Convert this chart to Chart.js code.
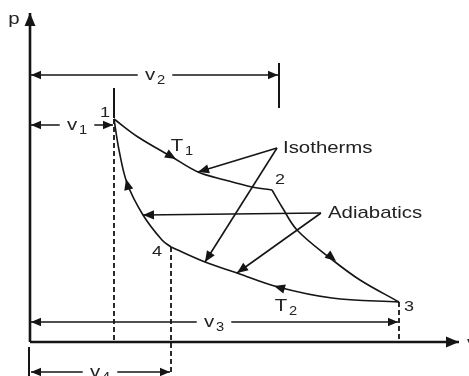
<!DOCTYPE html>
<html>
<head>
<meta charset="utf-8">
<script src="https://cdn.jsdelivr.net/npm/chart.js@4.4.1/dist/chart.umd.min.js"></script>
<style>
  html, body { margin: 0; padding: 0; background: #fff; }
  #wrap { width: 469px; height: 376px; position: relative; }
</style>
</head>
<body>
<div id="wrap"><canvas id="myChart"></canvas></div>
<script>

// curves of the cycle (v, p)
const isoT1V = [8.4, 10.8, 14.2, 16.8, 19.5, 22.2, 24.2];
const isoT1P = [22.3, 20.5, 18.5, 17.0, 16.2, 15.5, 15.2];
const adi23V = [24.2, 25.2, 26.7, 30.0, 33.0, 36.9];
const adi23P = [15.2, 13.5, 11.2, 8.4, 6.2, 4.0];
const isoT2V = [36.9, 30.2, 24.8, 20.7, 17.5, 14.1];
const isoT2P = [4.0, 4.4, 5.5, 6.9, 8.0, 9.5];
const adi41V = [14.1, 13.2, 11.3, 9.7, 8.9, 8.4];
const adi41P = [9.5, 10.2, 12.7, 15.9, 19.2, 22.3];

// the four states
const stateNames = ['1', '2', '3', '4'];
const stateV = [8.4, 24.2, 36.9, 14.1];
const stateP = [22.3, 15.2, 4.0, 9.5];

// volume marks v1..v4 and the height of their dimension lines
const volNames = ['1', '2', '3', '4'];
const volV = [8.4, 24.9, 36.9, 14.1];
const volLineP = [21.7, 26.7, 2.0, -3.0];

// axis extents
const pMax = 32.9;
const vMax = 42.9;

// pointer lines: from label corner to a curve
const isoFrom = [24.7, 19.4];
const isoTo = [[16.8, 17.0], [17.5, 8.0]];
const adiFrom = [29.1, 12.9];
const adiTo = [[11.3, 12.7], [20.7, 6.9]];

// direction arrows sitting on the curves: [tipV, tipP, backV, backP]
const curveArrows = [
  [14.6, 18.3, 12.5, 19.5],
  [30.6, 8.1, 28.5, 9.8],
  [24.4, 5.6, 26.5, 5.0],
  [9.6, 16.3, 10.2, 14.0]
];

function pts(vs, ps) {
  return vs.map((v, i) => ({ x: v, y: ps[i] }))
}

const ink = '#151515';

function line(data, extra) {
  return Object.assign({
    data: data,
    showLine: true,
    borderColor: ink,
    borderWidth: 1.6,
    pointRadius: 0,
    fill: false,
    tension: 0
  }, extra || {});
}

const datasets = [
  // axes
  line([{ x: 0, y: 0 }, { x: 0, y: pMax }], { borderWidth: 2.6, arrowEnd: 13 }),
  line([{ x: 0, y: 0 }, { x: vMax, y: 0 }], { borderWidth: 2.6, arrowEnd: 13 }),
  // cycle
  line(pts(isoT1V, isoT1P), { tension: 0.35 }),
  line(pts(adi23V, adi23P), { tension: 0.35 }),
  line(pts(isoT2V, isoT2P), { tension: 0.35 }),
  line(pts(adi41V, adi41P), { tension: 0.35 }),
  // dashed drops
  line([{ x: volV[0], y: stateP[0] }, { x: volV[0], y: 0 }], { borderDash: [5, 3], borderWidth: 1.8 }),
  line([{ x: volV[3], y: stateP[3] }, { x: volV[3], y: volLineP[3] - 0.3 }], { borderDash: [5, 3], borderWidth: 1.8 }),
  line([{ x: volV[2], y: stateP[2] }, { x: volV[2], y: 0 }], { borderDash: [5, 3], borderWidth: 1.8 }),
  // dimension lines
  line([{ x: volV[0] - 0.1, y: volLineP[0] }, { x: 0.1, y: volLineP[0] }], { arrowEnd: 10, arrowStart: 10 }),
  line([{ x: volV[1] - 0.1, y: volLineP[1] }, { x: 0.1, y: volLineP[1] }], { arrowEnd: 10, arrowStart: 10 }),
  line([{ x: volV[2] - 0.1, y: volLineP[2] }, { x: 0.1, y: volLineP[2] }], { arrowEnd: 10, arrowStart: 10 }),
  line([{ x: volV[3] - 0.1, y: volLineP[3] }, { x: 0.1, y: volLineP[3] }], { arrowEnd: 10, arrowStart: 10 }),
  // end ticks
  line([{ x: volV[1], y: 27.9 }, { x: volV[1], y: 23.4 }], { borderWidth: 2 }),
  line([{ x: volV[0], y: 25.4 }, { x: volV[0], y: 22.4 }], { borderWidth: 2 }),
  line([{ x: -0.1, y: -0.5 }, { x: -0.1, y: -3.4 }], { borderWidth: 2 }),
  // pointers
  line([{ x: isoFrom[0], y: isoFrom[1] }, { x: isoTo[0][0], y: isoTo[0][1] }], { arrowEnd: 11 }),
  line([{ x: isoFrom[0], y: isoFrom[1] }, { x: isoTo[1][0], y: isoTo[1][1] }], { arrowEnd: 11 }),
  line([{ x: adiFrom[0], y: adiFrom[1] }, { x: adiTo[0][0], y: adiTo[0][1] }], { arrowEnd: 11 }),
  line([{ x: adiFrom[0], y: adiFrom[1] }, { x: adiTo[1][0], y: adiTo[1][1] }], { arrowEnd: 11 })
];

function arrowHead(ctx, tx, ty, bx, by, len) {
  const a = Math.atan2(ty - by, tx - bx);
  const w = len * 0.42;
  ctx.beginPath();
  ctx.moveTo(tx, ty);
  ctx.lineTo(tx - len * Math.cos(a) + w * Math.sin(a), ty - len * Math.sin(a) - w * Math.cos(a));
  ctx.lineTo(tx - len * Math.cos(a) - w * Math.sin(a), ty - len * Math.sin(a) + w * Math.cos(a));
  ctx.closePath();
  ctx.fill();
}

function drawLabel(ctx, x, y, text, sub, size, align, knockout) {
  const font = (s) => s + 'px "Liberation Sans", Arial, sans-serif';
  ctx.save();
  ctx.translate(x, y);
  ctx.scale(1.2, 1);
  ctx.textBaseline = 'middle';
  ctx.textAlign = 'left';
  ctx.font = font(size);
  const w = ctx.measureText(text).width;
  ctx.font = font(size * 0.72);
  const sw = sub ? ctx.measureText(sub).width + 1.5 : 0;
  const left = align === 'left' ? 0 : -(w + sw) / 2;
  if (knockout) {
    ctx.fillStyle = '#fff';
    ctx.fillRect(left - 6, -size * 0.55, w + sw + 12, size * 1.1);
  }
  ctx.fillStyle = '#222';
  ctx.font = font(size);
  ctx.fillText(text, left, 0);
  if (sub) {
    ctx.font = font(size * 0.72);
    ctx.fillText(sub, left + w + 1.5, size * 0.32);
  }
  ctx.restore();
}

const decorPlugin = {
  id: 'decor',
  afterDatasetsDraw(chart) {
    const ctx = chart.ctx;
    const xs = chart.scales.x;
    const ys = chart.scales.y;
    const X = (v) => xs.getPixelForValue(v);
    const Y = (p) => ys.getPixelForValue(p);
    ctx.save();
    ctx.fillStyle = ink;

    // arrowheads at line ends
    chart.data.datasets.forEach((ds, i) => {
      const el = chart.getDatasetMeta(i).data;
      const n = el.length;
      if (ds.arrowEnd) arrowHead(ctx, el[n - 1].x, el[n - 1].y, el[n - 2].x, el[n - 2].y, ds.arrowEnd);
      if (ds.arrowStart) arrowHead(ctx, el[0].x, el[0].y, el[1].x, el[1].y, ds.arrowStart);
    });

    // arrows on the curves
    curveArrows.forEach(a => arrowHead(ctx, X(a[0]), Y(a[1]), X(a[2]), Y(a[3]), 11));

    // dimension labels, knocked out of their lines
    drawLabel(ctx, X(4.7), Y(volLineP[0]), 'v', volNames[0], 17, 'center', true);
    drawLabel(ctx, X(12.5), Y(volLineP[1]), 'v', volNames[1], 17, 'center', true);
    drawLabel(ctx, X(18.4), Y(volLineP[2]), 'v', volNames[2], 17, 'center', true);
    drawLabel(ctx, X(7.0), Y(volLineP[3]), 'v', volNames[3], 17, 'center', true);

    // state numbers
    const offV = [-0.9, 0.8, 1.0, -1.4];
    const offP = [0.6, 1.0, -0.5, -0.5];
    stateNames.forEach((s, i) => drawLabel(ctx, X(stateV[i] + offV[i]), Y(stateP[i] + offP[i]), s, '', 15, 'center'));

    // temperatures
    drawLabel(ctx, X(15.2), Y(19.6), 'T', '1', 17, 'center');
    drawLabel(ctx, X(25.6), Y(3.6), 'T', '2', 17, 'center');

    // annotations
    drawLabel(ctx, X(25.3), Y(isoFrom[1]), 'Isotherms', '', 17, 'left');
    drawLabel(ctx, X(29.8), Y(adiFrom[1]), 'Adiabatics', '', 17, 'left');

    // axis names
    drawLabel(ctx, X(-1.6), Y(32.3), 'p', '', 17, 'center');
    drawLabel(ctx, X(43.7), Y(-0.1), 'v', '', 17, 'left');
    ctx.restore();
  }
};

const ctxEl = document.getElementById('myChart');
const myChart = new Chart(ctxEl, {
  type: 'scatter',
  data: { datasets: datasets },
  options: {
    responsive: true,
    maintainAspectRatio: false,
    animation: false,
    layout: { padding: 0 },
    plugins: { legend: { display: false }, tooltip: { enabled: false } },
    scales: {
      x: { type: 'linear', min: -3.0, max: 43.9, display: false },
      y: { type: 'linear', min: -3.4, max: 34.2, display: false }
    }
  },
  plugins: [decorPlugin]
});
</script>
</body>
</html>
